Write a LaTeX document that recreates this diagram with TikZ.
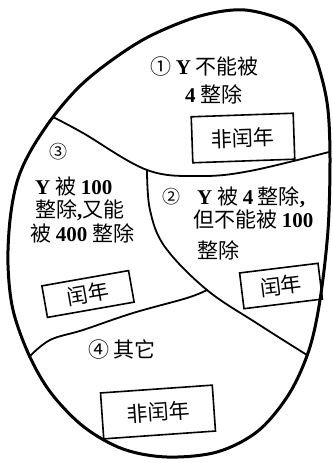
\documentclass[tikz,border=0pt]{standalone}
\usepackage{fontspec}
\setmainfont{Noto Sans CJK SC}
\newfontfamily\latfont{Liberation Serif}
\newcommand\lt[1]{{\latfont\bfseries #1}}
\tikzset{
  outline/.style={line width=3pt, line join=round},
  divider/.style={line width=1.8pt, line cap=round},
  yearbox/.style={draw, line width=1.6pt, inner sep=0pt, font=\fontsize{21}{23}\selectfont},
  lbl/.style={anchor=west, inner sep=0pt, font=\fontsize{21}{23}\selectfont},
  num/.style={inner sep=0pt, font=\fontsize{18}{20}\selectfont}
}
\begin{document}
\begin{tikzpicture}[x=1pt, y=-1pt]
\useasboundingbox (0,0) rectangle (332,463);
% egg outline
\draw[outline] plot[smooth cycle, tension=0.55] coordinates {
  (245,10) (289,23) (310,46) (321,75) (328,110) (330,160) (328,230)
  (320,300) (309,350) (289,394) (258,431) (217,452) (167,457) (123,449)
  (84,427) (51,393) (29,355) (13,310) (8,265) (10,220) (17,182)
  (30,152) (53,117) (80,86) (112,60) (150,36) (200,16)};
% junction coordinates
\coordinate (jl) at (53,117);
\coordinate (jt) at (147,170);
\coordinate (jr) at (329,152);
\coordinate (jm) at (207,290);
\coordinate (jbr) at (307,355);
\coordinate (jbl) at (29,357);
% dividers
\draw[divider] plot[smooth, tension=0.6] coordinates {(jl) (83,133) (jt) (200,176) (250,171) (jr)};
\draw[divider] plot[smooth, tension=0.6] coordinates {(jt) (150,210) (165,247) (jm) (258,324) (jbr)};
\draw[divider] plot[smooth, tension=0.6] coordinates {(jm) (187,298) (133,313) (83,330) (50,340) (jbl)};
% region 1
\node[lbl] (r1a) at (150,67) {① \lt{Y} 不能被};
\node[lbl] (r1b) at (185,94) {\lt{4} 整除};
\node[yearbox, minimum width=102pt, minimum height=46pt, rotate=2] (b1) at (243,138) {非闰年};
% region 3
\node[num] (n3) at (58,152) {③};
\node[lbl] (r3a) at (35,187) {\lt{Y} 被 \lt{100}};
\node[lbl] (r3b) at (35,210) {整除\lt{,}又能};
\node[lbl] (r3c) at (30,233) {被 \lt{400} 整除};
\node[yearbox, minimum width=88pt, minimum height=32pt, rotate=10] (b3) at (88,294) {闰年};
% region 2
\node[num] (n2) at (171,197) {②};
\node[lbl] (r2a) at (197,197) {\lt{Y} 被 \lt{4} 整除\lt{,}};
\node[lbl] (r2b) at (193,219) {但不能被 \lt{100}};
\node[lbl] (r2c) at (197,250) {整除};
\node[yearbox, minimum width=79pt, minimum height=36pt, rotate=7] (b2) at (281,286) {闰年};
% region 4
\node[lbl] (r4) at (88,350) {④ 其它};
\node[yearbox, minimum width=112pt, minimum height=46pt, rotate=4] (b4) at (158,412) {非闰年};
\end{tikzpicture}
\end{document}
